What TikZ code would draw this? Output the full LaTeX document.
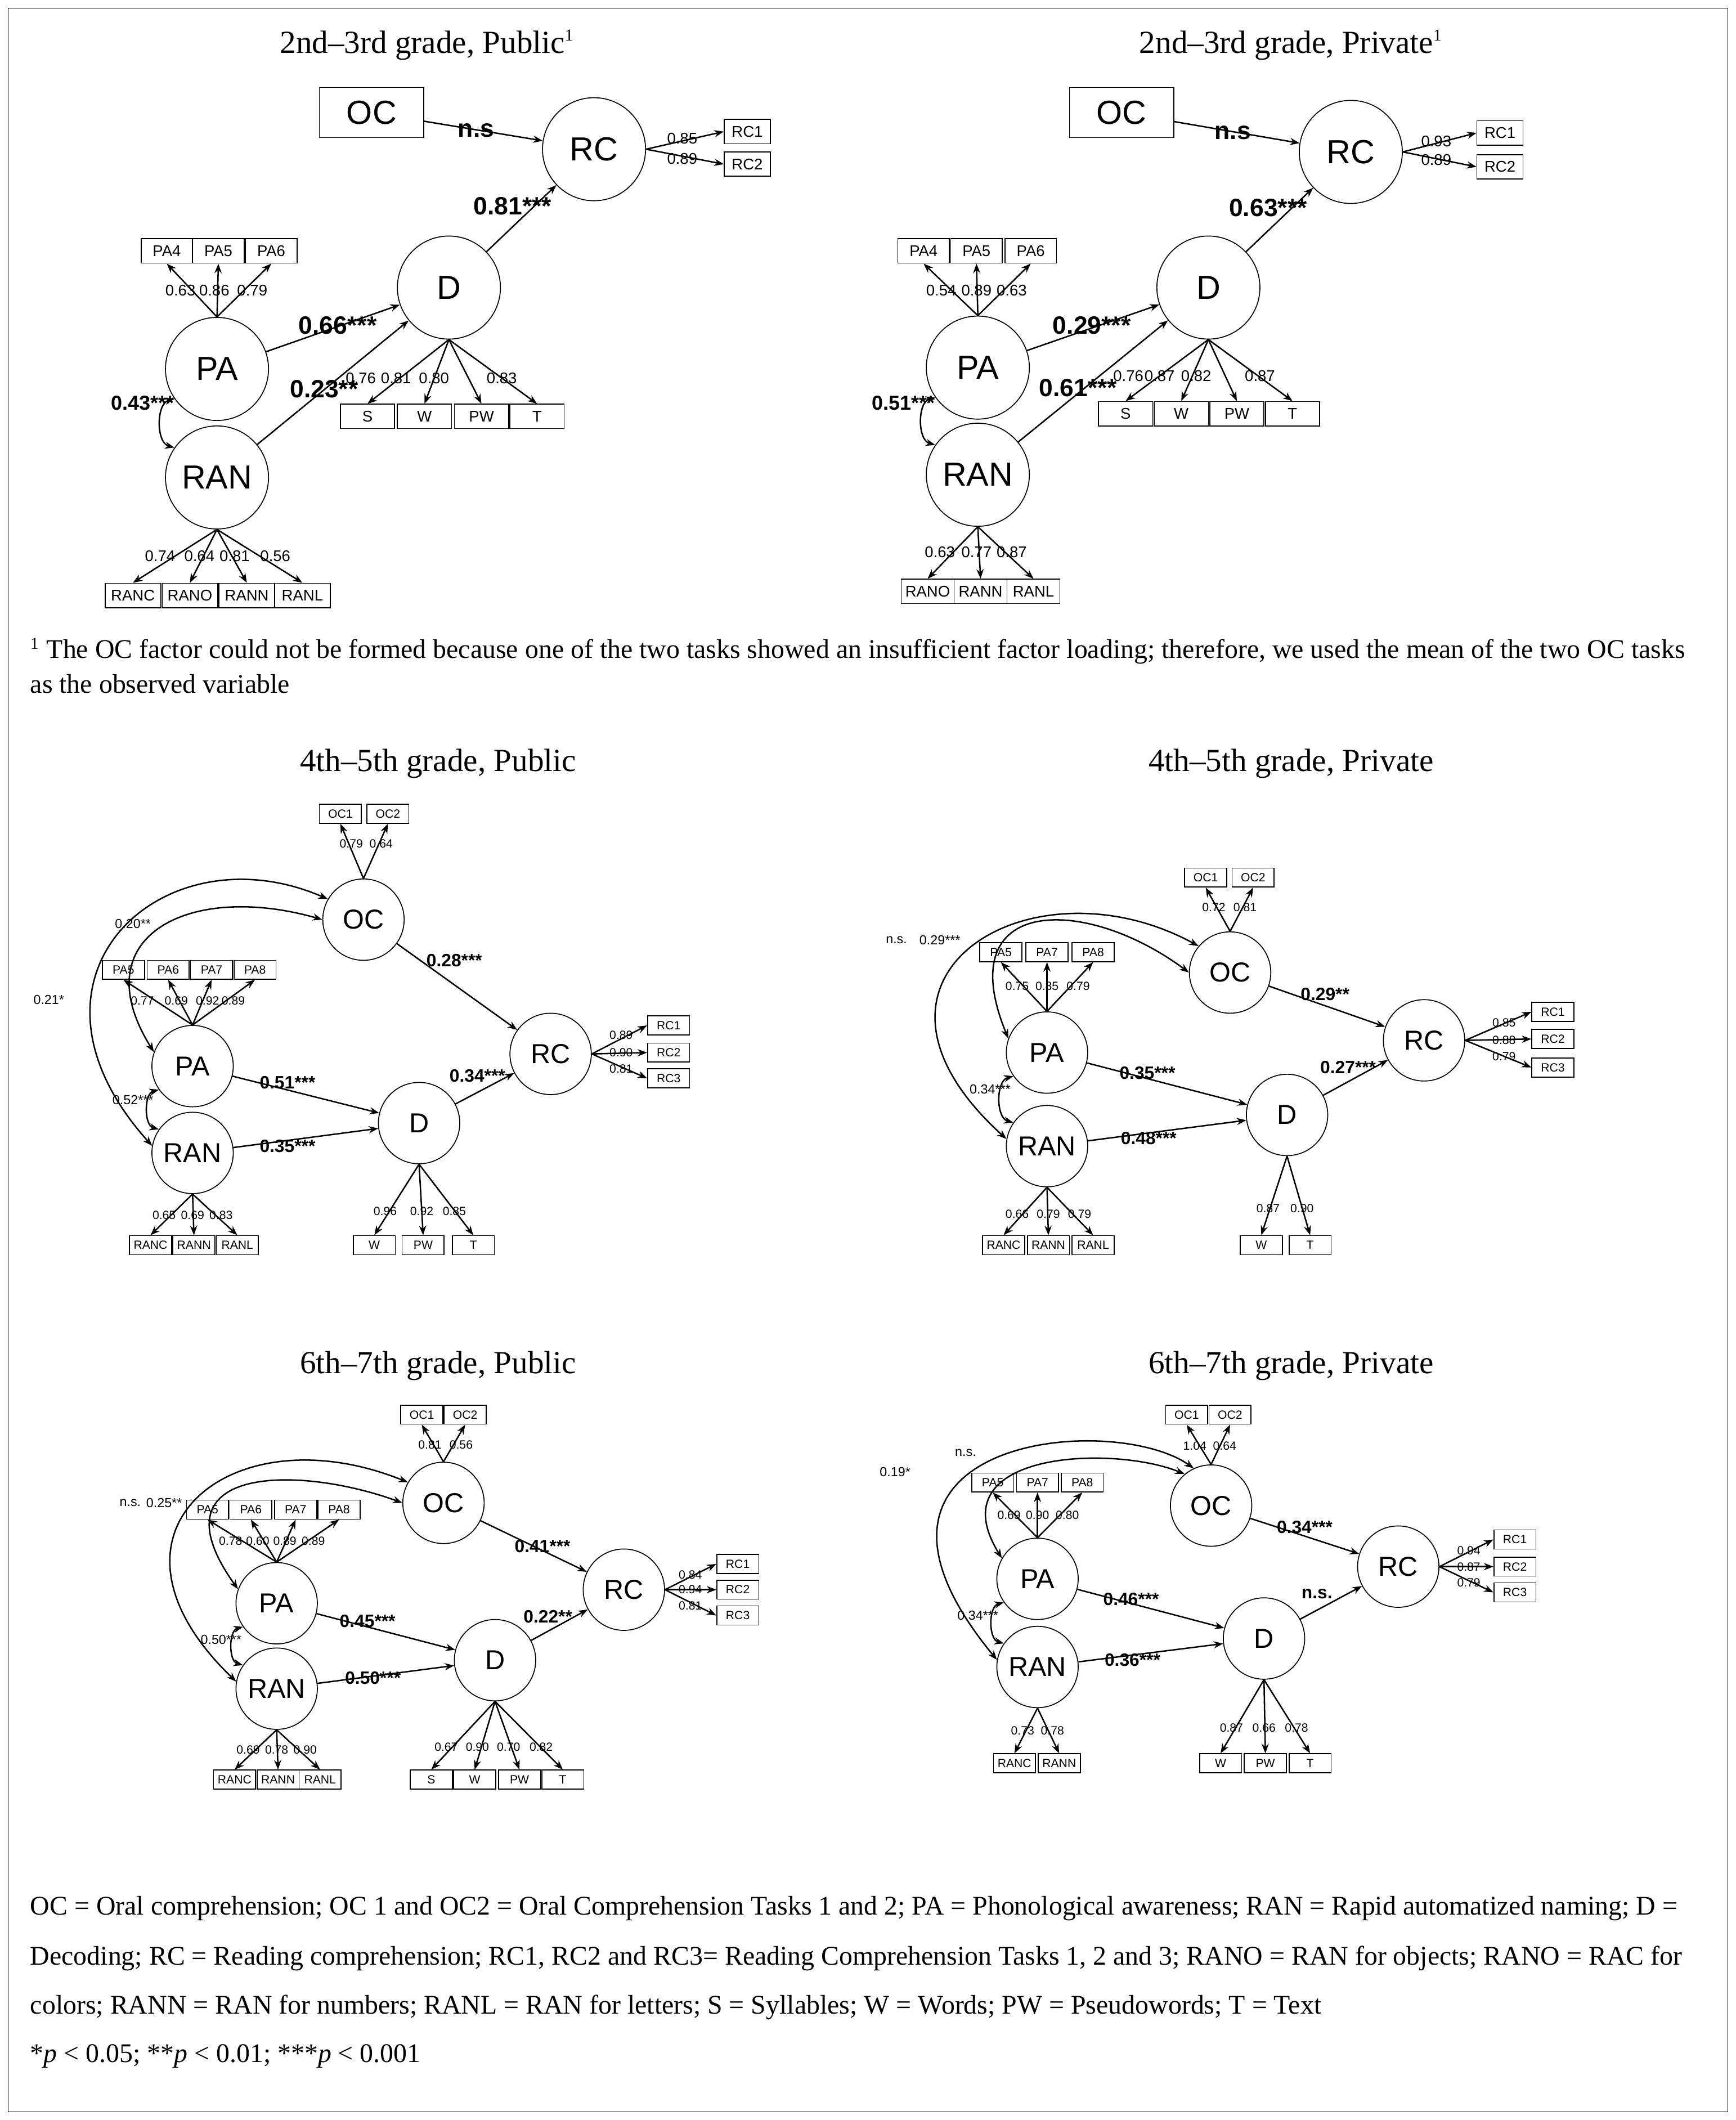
\documentclass[tikz,border=0pt]{standalone}
\usepackage{fontspec}
\setmainfont{Liberation Serif}
\setsansfont{Liberation Sans}
\usetikzlibrary{arrows.meta}
\begin{document}
\begin{tikzpicture}[x=0.02cm,y=-0.02cm,
 bigL/.style={circle,draw,minimum size=1.52cm,inner sep=0,font=\sffamily\fontsize{14}{16}\selectfont},
 smL/.style={circle,draw,minimum size=1.2cm,inner sep=0,font=\sffamily\fontsize{11.5}{13}\selectfont},
 bigO/.style={draw,minimum width=0.8cm,minimum height=0.36cm,inner sep=0,font=\sffamily\fontsize{6.5}{7}\selectfont},
 smO/.style={draw,minimum width=0.62cm,minimum height=0.28cm,inner sep=0,font=\sffamily\fontsize{5}{6}\selectfont},
 ocO/.style={draw,minimum width=1.54cm,minimum height=0.74cm,inner sep=0,font=\sffamily\fontsize{14}{16}\selectfont},
 bLd/.style={font=\sffamily\fontsize{6.5}{7}\selectfont,inner sep=0},
 sLd/.style={font=\sffamily\fontsize{5}{6}\selectfont,inner sep=0},
 bP/.style={font=\sffamily\bfseries\fontsize{10.5}{12}\selectfont,inner sep=0},
 sP/.style={font=\sffamily\bfseries\fontsize{7.5}{9}\selectfont,inner sep=0},
 sPn/.style={font=\sffamily\fontsize{5.5}{6}\selectfont,inner sep=0},
 ar/.style={-{Stealth[length=4pt,width=3pt]},semithick},
 dar/.style={{Stealth[length=4pt,width=3pt]}-{Stealth[length=4pt,width=3pt]},semithick},
 ttl/.style={font=\fontsize{13.5}{15}\selectfont},
 txt/.style={anchor=west,inner sep=0,font=\fontsize{11.3}{13}\selectfont}]
\useasboundingbox (0,0) rectangle (1280,1563);
\draw[thin] (6,6) rectangle (1274,1557);

% ================= Panel 1
\node[ttl] (t1) at (315,33) {2nd–3rd grade, Public\textsuperscript{\scriptsize 1}};
\node[ocO] (aOC) at (274,83) {OC};
\node[bigL] (aRC) at (438,110) {RC};
\node[bigL] (aD) at (331,212) {D};
\node[bigL] (aPA) at (160,272) {PA};
\node[bigL] (aRAN) at (160,352) {RAN};
\node[bigO,minimum width=0.68cm] (aRC1) at (551,97) {RC1};
\node[bigO,minimum width=0.68cm] (aRC2) at (551,121) {RC2};
\foreach \n/\x in {PA4/123,PA5/161,PA6/200}{\node[bigO,minimum width=0.76cm] (a\n) at (\x,185) {\n}; \draw[ar] (aPA.north) -- (a\n.south);}
\foreach \n/\x in {S/271,W/313,PW/355,T/396}{\node[bigO] (a\n) at (\x,307) {\n}; \draw[ar] (aD.south) -- (a\n.north);}
\foreach \n/\x in {RANC/98,RANO/140,RANN/182,RANL/223}{\node[bigO,minimum width=0.82cm] (a\n) at (\x,439) {\n}; \draw[ar] (aRAN.south) -- (a\n.north);}
\draw[ar] (aRC.east) -- (aRC1.west); \draw[ar] (aRC.east) -- (aRC2.west);
\draw[ar] (aOC) -- (aRC); \draw[ar] (aD) -- (aRC); \draw[ar] (aPA) -- (aD); \draw[ar] (aRAN) -- (aD);
\draw[dar] (aPA.215) to[bend right=75] (aRAN.145);
\node[bLd] (l1) at (503,102) {0.85}; \node[bLd] (l2) at (503,117) {0.89};
\node[bLd] (l3) at (133,214) {0.63}; \node[bLd] (l4) at (158,214) {0.86}; \node[bLd] (l5) at (186,214) {0.79};
\node[bLd] (l6) at (266,279) {0.76}; \node[bLd] (l7) at (292,279) {0.81}; \node[bLd] (l8) at (320,279) {0.80}; \node[bLd] (l9) at (370,279) {0.83};
\node[bLd] (l10) at (118,410) {0.74}; \node[bLd] (l11) at (147,410) {0.64}; \node[bLd] (l12) at (173,410) {0.81}; \node[bLd] (l13) at (203,410) {0.56};
\node[bP] (p1) at (351,96) {n.s}; \node[bP] (p2) at (378,152) {0.81***};
\node[bP] (p3) at (249,240) {0.66***}; \node[bP] (p4) at (239,287) {0.23**};
\node[bP,font=\sffamily\bfseries\fontsize{8.5}{10}\selectfont] (p5) at (105,297) {0.43***};

% ================= Panel 2
\node[ttl] (t2) at (952,33) {2nd–3rd grade, Private\textsuperscript{\scriptsize 1}};
\node[ocO] (bOC) at (827,83) {OC};
\node[bigL] (bRC) at (996,112) {RC};
\node[bigL] (bD) at (891,212) {D};
\node[bigL] (bPA) at (721,271) {PA};
\node[bigL] (bRAN) at (721,350) {RAN};
\node[bigO,minimum width=0.68cm] (bRC1) at (1106,98) {RC1};
\node[bigO,minimum width=0.68cm] (bRC2) at (1106,123) {RC2};
\foreach \n/\x in {PA4/681,PA5/720,PA6/760}{\node[bigO,minimum width=0.76cm] (b\n) at (\x,185) {\n}; \draw[ar] (bPA.north) -- (b\n.south);}
\foreach \n/\x in {S/830,W/871,PW/912,T/953}{\node[bigO] (b\n) at (\x,305) {\n}; \draw[ar] (bD.south) -- (b\n.north);}
\foreach \n/\x in {RANO/684,RANN/723,RANL/762}{\node[bigO,minimum width=0.78cm] (b\n) at (\x,436) {\n}; \draw[ar] (bRAN.south) -- (b\n.north);}
\draw[ar] (bRC.east) -- (bRC1.west); \draw[ar] (bRC.east) -- (bRC2.west);
\draw[ar] (bOC) -- (bRC); \draw[ar] (bD) -- (bRC); \draw[ar] (bPA) -- (bD); \draw[ar] (bRAN) -- (bD);
\draw[dar] (bPA.215) to[bend right=75] (bRAN.145);
\node[bLd] (m1) at (1059,104) {0.93}; \node[bLd] (m2) at (1059,118) {0.89};
\node[bLd] (m3) at (694,214) {0.54}; \node[bLd] (m4) at (720,214) {0.89}; \node[bLd] (m5) at (746,214) {0.63};
\node[bLd] (m6) at (832,277) {0.76}; \node[bLd] (m7) at (855,277) {0.87}; \node[bLd] (m8) at (882,277) {0.82}; \node[bLd] (m9) at (929,277) {0.87};
\node[bLd] (m10) at (693,407) {0.63}; \node[bLd] (m11) at (720,407) {0.77}; \node[bLd] (m12) at (746,407) {0.87};
\node[bP] (q1) at (909,98) {n.s}; \node[bP] (q2) at (935,153) {0.63***};
\node[bP] (q3) at (805,240) {0.29***}; \node[bP] (q4) at (795,286) {0.61***};
\node[bP,font=\sffamily\bfseries\fontsize{8.5}{10}\selectfont] (q5) at (666,297) {0.51***};

% footnote
\node[txt] (fn1) at (22,480) {\textsuperscript{\scriptsize 1} The OC factor could not be formed because one of the two tasks showed an insufficient factor loading; therefore, we used the mean of the two OC tasks};
\node[txt] (fn2) at (22,504) {as the observed variable};

% ================= Panel 3
\node[ttl] (t3) at (323,563) {4th–5th grade, Public};
\node[smO] (cOC1) at (251,600) {OC1}; \node[smO] (cOC2) at (286,600) {OC2};
\node[smL] (cOC) at (268,678) {OC};
\node[smL] (cRC) at (406,777) {RC};
\node[smL] (cPA) at (142,786) {PA};
\node[smL] (cRAN) at (142,850) {RAN};
\node[smL] (cD) at (309,828) {D};
\draw[ar] (cOC.north) -- (cOC1.south); \draw[ar] (cOC.north) -- (cOC2.south);
\foreach \n/\y in {RC1/756,RC2/776,RC3/795}{\node[smO] (c\n) at (493,\y) {\n}; \draw[ar] (cRC.east) -- (c\n.west);}
\foreach \n/\x in {PA5/91,PA6/124,PA7/156,PA8/188}{\node[smO] (c\n) at (\x,715) {\n}; \draw[ar] (cPA.north) -- (c\n.south);}
\foreach \n/\x in {W/276,PW/312,T/349}{\node[smO] (c\n) at (\x,918) {\n}; \draw[ar] (cD.south) -- (c\n.north);}
\foreach \n/\x in {RANC/111,RANN/143,RANL/175}{\node[smO] (c\n) at (\x,918) {\n}; \draw[ar] (cRAN.south) -- (c\n.north);}
\draw[ar] (cOC) -- (cRC); \draw[ar] (cD) -- (cRC); \draw[ar] (cPA) -- (cD); \draw[ar] (cRAN) -- (cD);
\draw[dar] (cPA.215) to[bend right=75] (cRAN.145);
\draw[dar] (cOC.west) .. controls (140,650) and (60,690) .. (cPA.160);
\draw[dar] (cOC.150) .. controls (120,610) and (0,720) .. (cRAN.170);
\node[sLd] (n1) at (259,622) {0.79}; \node[sLd] (n2) at (281,622) {0.64};
\node[sLd] (n3) at (458,763) {0.89}; \node[sLd] (n4) at (458,776) {0.90}; \node[sLd] (n5) at (458,788) {0.81};
\node[sLd] (n6) at (105,738) {0.77}; \node[sLd] (n7) at (130,738) {0.69}; \node[sLd] (n8) at (153,738) {0.92}; \node[sLd] (n9) at (172,738) {0.89};
\node[sLd] (n10) at (284,893) {0.96}; \node[sLd] (n11) at (311,893) {0.92}; \node[sLd] (n12) at (335,893) {0.85};
\node[sLd] (n13) at (121,896) {0.65}; \node[sLd] (n14) at (142,896) {0.69}; \node[sLd] (n15) at (163,896) {0.83};
\node[sP] (r1) at (335,708) {0.28***}; \node[sP] (r2) at (212,798) {0.51***};
\node[sP] (r3) at (212,845) {0.35***}; \node[sP] (r4) at (352,793) {0.34***};
\node[sPn] (r5) at (98,681) {0.20**}; \node[sPn] (r6) at (36,737) {0.21*}; \node[sPn] (r7) at (98,811) {0.52***};

% ================= Panel 4
\node[ttl] (t4) at (952,563) {4th–5th grade, Private};
\node[smO] (dOC1) at (889,647) {OC1}; \node[smO] (dOC2) at (924,647) {OC2};
\node[smL] (dOC) at (907,717) {OC};
\node[smL] (dRC) at (1050,767) {RC};
\node[smL] (dPA) at (772,776) {PA};
\node[smL] (dRAN) at (772,845) {RAN};
\node[smL] (dD) at (949,822) {D};
\draw[ar] (dOC.north) -- (dOC1.south); \draw[ar] (dOC.north) -- (dOC2.south);
\foreach \n/\y in {RC1/746,RC2/766,RC3/787}{\node[smO] (d\n) at (1145,\y) {\n}; \draw[ar] (dRC.east) -- (d\n.west);}
\foreach \n/\x in {PA5/738,PA7/772,PA8/806}{\node[smO] (d\n) at (\x,702) {\n}; \draw[ar] (dPA.north) -- (d\n.south);}
\foreach \n/\x in {W/930,T/966}{\node[smO] (d\n) at (\x,918) {\n}; \draw[ar] (dD.south) -- (d\n.north);}
\foreach \n/\x in {RANC/740,RANN/773,RANL/806}{\node[smO] (d\n) at (\x,918) {\n}; \draw[ar] (dRAN.south) -- (d\n.north);}
\draw[ar] (dOC) -- (dRC); \draw[ar] (dD) -- (dRC); \draw[ar] (dPA) -- (dD); \draw[ar] (dRAN) -- (dD);
\draw[dar] (dPA.215) to[bend right=75] (dRAN.145);
\draw[dar] (dOC.west) .. controls (800,660) and (700,660) .. (dPA.160);
\draw[dar] (dOC.140) .. controls (760,630) and (610,720) .. (dRAN.170);
\node[sLd] (o1) at (895,669) {0.72}; \node[sLd] (o2) at (918,669) {0.81};
\node[sLd] (o3) at (1109,754) {0.85}; \node[sLd] (o4) at (1109,767) {0.88}; \node[sLd] (o5) at (1109,779) {0.79};
\node[sLd] (o6) at (750,727) {0.75}; \node[sLd] (o7) at (772,727) {0.85}; \node[sLd] (o8) at (795,727) {0.79};
\node[sLd] (o9) at (935,891) {0.87}; \node[sLd] (o10) at (960,891) {0.90};
\node[sLd] (o11) at (750,895) {0.66}; \node[sLd] (o12) at (773,895) {0.79}; \node[sLd] (o13) at (796,895) {0.79};
\node[sP] (s1) at (977,733) {0.29**}; \node[sP] (s2) at (994,787) {0.27***};
\node[sP] (s3) at (846,791) {0.35***}; \node[sP] (s4) at (847,839) {0.48***};
\node[sPn] (s5) at (661,693) {n.s.}; \node[sPn] (s6) at (693,693) {0.29***}; \node[sPn] (s7) at (730,803) {0.34***};

% ================= Panel 5
\node[ttl] (t5) at (323,1007) {6th–7th grade, Public};
\node[smO] (eOC1) at (311,1043) {OC1}; \node[smO] (eOC2) at (343,1043) {OC2};
\node[smL] (eOC) at (327,1108) {OC};
\node[smL] (eRC) at (460,1172) {RC};
\node[smL] (ePA) at (204,1182) {PA};
\node[smL] (eRAN) at (204,1245) {RAN};
\node[smL] (eD) at (365,1224) {D};
\draw[ar] (eOC.north) -- (eOC1.south); \draw[ar] (eOC.north) -- (eOC2.south);
\foreach \n/\y in {RC1/1153,RC2/1172,RC3/1191}{\node[smO] (e\n) at (544,\y) {\n}; \draw[ar] (eRC.east) -- (e\n.west);}
\foreach \n/\x in {PA5/153,PA6/185,PA7/218,PA8/250}{\node[smO] (e\n) at (\x,1113) {\n}; \draw[ar] (ePA.north) -- (e\n.south);}
\foreach \n/\x in {S/318,W/350,PW/383,T/415}{\node[smO] (e\n) at (\x,1312) {\n}; \draw[ar] (eD.south) -- (e\n.north);}
\foreach \n/\x in {RANC/173,RANN/205,RANL/236}{\node[smO] (e\n) at (\x,1312) {\n}; \draw[ar] (eRAN.south) -- (e\n.north);}
\draw[ar] (eOC) -- (eRC); \draw[ar] (eD) -- (eRC); \draw[ar] (ePA) -- (eD); \draw[ar] (eRAN) -- (eD);
\draw[dar] (ePA.215) to[bend right=75] (eRAN.145);
\draw[dar] (eOC.west) .. controls (220,1080) and (110,1080) .. (ePA.160);
\draw[dar] (eOC.150) .. controls (170,1040) and (60,1130) .. (eRAN.170);
\node[sLd] (u1) at (317,1065) {0.81}; \node[sLd] (u2) at (340,1065) {0.56};
\node[sLd] (u3) at (509,1161) {0.84}; \node[sLd] (u4) at (509,1172) {0.94}; \node[sLd] (u5) at (509,1184) {0.81};
\node[sLd] (u6) at (170,1136) {0.78}; \node[sLd] (u7) at (190,1136) {0.60}; \node[sLd] (u8) at (210,1136) {0.89}; \node[sLd] (u9) at (231,1136) {0.89};
\node[sLd] (u10) at (329,1288) {0.67}; \node[sLd] (u11) at (352,1288) {0.90}; \node[sLd] (u12) at (375,1288) {0.70}; \node[sLd] (u13) at (399,1288) {0.82};
\node[sLd] (u14) at (183,1290) {0.69}; \node[sLd] (u15) at (204,1290) {0.78}; \node[sLd] (u16) at (225,1290) {0.90};
\node[sP] (v1) at (400,1140) {0.41***}; \node[sP] (v2) at (404,1192) {0.22**};
\node[sP] (v3) at (271,1195) {0.45***}; \node[sP] (v4) at (275,1237) {0.50***};
\node[sPn] (v5) at (96,1108) {n.s.}; \node[sPn] (v6) at (121,1108) {0.25**}; \node[sPn] (v7) at (163,1209) {0.50***};

% ================= Panel 6
\node[ttl] (t6) at (952,1007) {6th–7th grade, Private};
\node[smO] (fOC1) at (875,1043) {OC1}; \node[smO] (fOC2) at (907,1043) {OC2};
\node[smL] (fOC) at (893,1110) {OC};
\node[smL] (fRC) at (1031,1155) {RC};
\node[smL] (fPA) at (765,1164) {PA};
\node[smL] (fRAN) at (765,1229) {RAN};
\node[smL] (fD) at (932,1208) {D};
\draw[ar] (fOC.north) -- (fOC1.south); \draw[ar] (fOC.north) -- (fOC2.south);
\foreach \n/\y in {RC1/1135,RC2/1155,RC3/1174}{\node[smO] (f\n) at (1117,\y) {\n}; \draw[ar] (fRC.east) -- (f\n.west);}
\foreach \n/\x in {PA5/732,PA7/765,PA8/798}{\node[smO] (f\n) at (\x,1093) {\n}; \draw[ar] (fPA.north) -- (f\n.south);}
\foreach \n/\x in {W/900,PW/933,T/966}{\node[smO] (f\n) at (\x,1300) {\n}; \draw[ar] (fD.south) -- (f\n.north);}
\foreach \n/\x in {RANC/748,RANN/781}{\node[smO] (f\n) at (\x,1300) {\n}; \draw[ar] (fRAN.south) -- (f\n.north);}
\draw[ar] (fOC) -- (fRC); \draw[ar] (fD) -- (fRC); \draw[ar] (fPA) -- (fD); \draw[ar] (fRAN) -- (fD);
\draw[dar] (fPA.215) to[bend right=75] (fRAN.145);
\draw[dar] (fOC.130) .. controls (820,1065) and (690,1070) .. (fPA.150);
\draw[dar] (fOC.115) .. controls (820,1040) and (600,1060) .. (fRAN.170);
\node[sLd] (w1) at (881,1066) {1.04}; \node[sLd] (w2) at (903,1066) {0.64};
\node[sLd] (w3) at (1083,1143) {0.94}; \node[sLd] (w4) at (1083,1155) {0.87}; \node[sLd] (w5) at (1083,1167) {0.79};
\node[sLd] (w6) at (744,1117) {0.69}; \node[sLd] (w7) at (765,1117) {0.90}; \node[sLd] (w8) at (787,1117) {0.80};
\node[sLd] (w9) at (908,1274) {0.87}; \node[sLd] (w10) at (932,1274) {0.66}; \node[sLd] (w11) at (956,1274) {0.78};
\node[sLd] (w12) at (754,1276) {0.73}; \node[sLd] (w13) at (776,1276) {0.78};
\node[sP] (z1) at (962,1126) {0.34***}; \node[sP] (z2) at (971,1175) {n.s.};
\node[sP] (z3) at (834,1179) {0.46***}; \node[sP] (z4) at (835,1224) {0.36***};
\node[sPn] (z5) at (712,1071) {n.s.}; \node[sPn] (z6) at (660,1085) {0.19*}; \node[sPn] (z7) at (721,1191) {0.34***};

% bottom text
\node[txt] (b1) at (22,1407) {OC = Oral comprehension; OC 1 and OC2 = Oral Comprehension Tasks 1 and 2; PA = Phonological awareness; RAN = Rapid automatized naming; D =};
\node[txt] (b2) at (22,1444) {Decoding; RC = Reading comprehension; RC1, RC2 and RC3= Reading Comprehension Tasks 1, 2 and 3; RANO = RAN for objects; RANO = RAC for};
\node[txt] (b3) at (22,1480) {colors; RANN = RAN for numbers; RANL = RAN for letters; S = Syllables; W = Words; PW = Pseudowords; T = Text};
\node[txt] (b4) at (22,1516) {*\textit{p} < 0.05; **\textit{p} < 0.01; ***\textit{p} < 0.001};
\end{tikzpicture}
\end{document}
